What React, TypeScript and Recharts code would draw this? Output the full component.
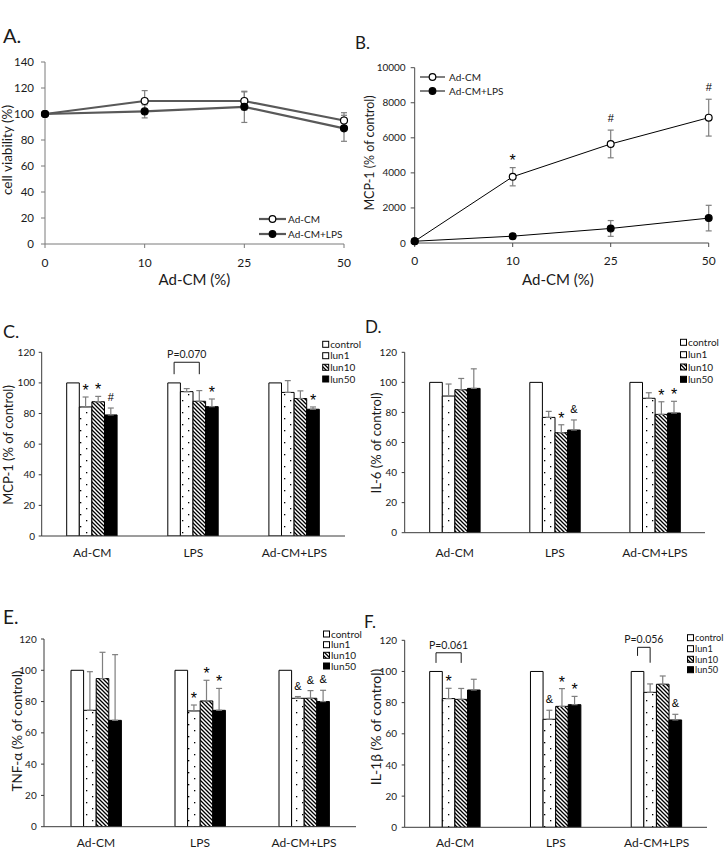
import React from "react";
import { LineChart, Line, BarChart, Bar, XAxis, YAxis, ErrorBar, LabelList } from "recharts";

// ---------- A. cell viability ----------
const doses = ["0", "10", "25", "50"];
const viabAdcm = [100, 110, 110, 95];
const viabAdcmErr = [0, 8, 7, 6];
const viabLps = [100, 102, 105.5, 89];
const viabLpsErr = [0, 5, 12, 10];
const viabTicks = [0, 20, 40, 60, 80, 100, 120, 140];

// ---------- B. MCP-1 dose response ----------
const mcpAdcm = [100, 3780, 5650, 7150];
const mcpAdcmErr = [0, 520, 790, 1050];
const mcpLps = [100, 390, 830, 1420];
const mcpLpsErr = [0, 150, 450, 730];
const mcpNotes = ["", "*", "#", "#"];
const mcpTicks = [0, 2000, 4000, 6000, 8000, 10000];

// ---------- C-F. bar panels ----------
const groups = ["Ad-CM", "LPS", "Ad-CM+LPS"];
const treatments = ["control", "lun1", "lun10", "lun50"];
const control = [100, 100, 100];
const pctTicks = [0, 20, 40, 60, 80, 100, 120];

// C. MCP-1
const cLun1 = [84.3, 94.3, 93.8];
const cLun10 = [87.7, 88, 89.8];
const cLun50 = [79.1, 84.5, 82.8];
const cLun1Err = [6.5, 2, 7.7];
const cLun10Err = [3.5, 7, 5];
const cLun50Err = [4.5, 5, 1.5];
const cLun1Note = ["*", "", ""];
const cLun10Note = ["*", "", ""];
const cLun50Note = ["#", "*", "*"];

// D. IL-6
const dLun1 = [90.9, 76.7, 89.4];
const dLun10 = [95.1, 66.5, 78.7];
const dLun50 = [96, 68.3, 79.6];
const dLun1Err = [8, 4, 3.7];
const dLun10Err = [7.5, 5.3, 8.4];
const dLun50Err = [13, 6.7, 7.8];
const dLun1Note = ["", "", ""];
const dLun10Note = ["", "*", "*"];
const dLun50Note = ["", "&", "*"];

// E. TNF-a
const eLun1 = [74.4, 74, 82.1];
const eLun10 = [94.7, 80.4, 82.1];
const eLun50 = [68, 74.4, 80];
const eLun1Err = [24.7, 3.8, 1.1];
const eLun10Err = [16.8, 13.2, 4.9];
const eLun50Err = [42, 14, 7.2];
const eLun1Note = ["", "*", "&"];
const eLun10Note = ["", "*", "&"];
const eLun50Note = ["", "*", "&"];

// F. IL-1b
const fLun1 = [82.6, 69.3, 86.6];
const fLun10 = [82.1, 77.6, 91.8];
const fLun50 = [88.1, 78.7, 68.9];
const fLun1Err = [6.6, 5.8, 5.4];
const fLun10Err = [7, 11.4, 5.3];
const fLun50Err = [6.9, 5.3, 3.6];
const fLun1Note = ["*", "&", ""];
const fLun10Note = ["", "*", ""];
const fLun50Note = ["", "*", "&"];

// comparison brackets: group, last bar of the bracket, label
const cBrackets = [{ group: "LPS", to: "lun10", label: "P=0.070" }];
const fBrackets = [
  { group: "Ad-CM", to: "lun10", label: "P=0.061" },
  { group: "Ad-CM+LPS", to: "lun1", label: "P=0.056" },
];

const FONT = "Lato, 'Open Sans', 'DejaVu Sans', sans-serif";
const NOTE_FONT = "'Liberation Sans', Arial, sans-serif";
const INK = "#1a1a1a";
const ERR = "#7f7f7f";
const fills: Record<string, string> = {
  control: "#ffffff",
  lun1: "url(#pat-dots)",
  lun10: "url(#pat-hatch)",
  lun50: "#000000",
};

const viabRows = doses.map((d, i) => ({
  dose: d,
  adcm: viabAdcm[i],
  adcmErr: viabAdcmErr[i],
  lps: viabLps[i],
  lpsErr: viabLpsErr[i],
}));

const mcpRows = doses.map((d, i) => ({
  dose: d,
  adcm: mcpAdcm[i],
  adcmErr: mcpAdcmErr[i],
  adcmTop: mcpAdcm[i] + mcpAdcmErr[i],
  lps: mcpLps[i],
  lpsErr: mcpLpsErr[i],
  note: mcpNotes[i],
}));

function barRows(vals: number[][], errs: number[][]) {
  return groups.map((g, i) => ({
    group: g,
    control: control[i],
    lun1: vals[0][i],
    lun10: vals[1][i],
    lun50: vals[2][i],
    lun1Err: [0, errs[0][i]],
    lun10Err: [0, errs[1][i]],
    lun50Err: [0, errs[2][i]],
  }));
}

function box(p: any) {
  const vb = p.viewBox || {};
  return {
    x: vb.x ?? p.x,
    y: vb.y ?? p.y,
    w: vb.width ?? p.width ?? 0,
    h: vb.height ?? p.height ?? 0,
  };
}

function noteText(x: number, top: number, note: string) {
  const star = note === "*";
  return (
    <text
      x={x}
      y={top - (star ? 1 : 7)}
      textAnchor="middle"
      fontFamily={NOTE_FONT}
      fontSize={star ? 16 : 11}
      fill="#000"
    >
      {note}
    </text>
  );
}

function lineNote(p: any) {
  const note = mcpNotes[p.index];
  const { x, y } = box(p);
  if (!note || x == null || y == null) return null;
  return noteText(x, y - 1, note);
}

function barNote(vals: number[], errs: number[], notes: string[]) {
  return (p: any) => {
    const i = p.index;
    const note = notes[i];
    const { x, y, w, h } = box(p);
    if (!note || x == null || y == null || !h) return null;
    const ppu = h / vals[i];
    return noteText(x + w / 2, y - errs[i] * ppu, note);
  };
}

type Geo = { top: number; legL: number; legR: number };

function bracketContent(brs: { group: string; to: string; label: string }[], geo: Geo[]) {
  return (p: any) => {
    const i = p.index;
    const k = brs.findIndex((b) => b.group === groups[i]);
    if (k < 0) return null;
    const { x, y, w, h } = box(p);
    if (x == null || y == null || !h) return null;
    const ppu = h / control[i];
    const base = y + h;
    const xa = x + w / 2;
    const xb = x + w * (treatments.indexOf(brs[k].to) + 0.5);
    const yt = base - geo[k].top * ppu;
    const yl = base - geo[k].legL * ppu;
    const yr = base - geo[k].legR * ppu;
    return (
      <g>
        <path d={`M${xa},${yl}L${xa},${yt}L${xb},${yt}L${xb},${yr}`} fill="none" stroke={INK} strokeWidth={1} />
        <text x={(xa + xb) / 2} y={yt - 4} textAnchor="middle" fontSize={10.5} fill={INK}>
          {brs[k].label}
        </text>
      </g>
    );
  };
}

type BarPanelCfg = {
  left: number;
  top: number;
  width: number;
  height: number;
  margin: { top: number; right: number; bottom: number; left: number };
  yw: number;
  xh: number;
  xTickMargin: number;
  yTickMargin: number;
  vals: number[][];
  errs: number[][];
  notes: string[][];
  brackets?: { group: string; to: string; label: string }[];
  geo?: Geo[];
};

const barPanels: BarPanelCfg[] = [
  {
    left: 0, top: 290, width: 362, height: 275,
    margin: { top: 62.3, right: 17, bottom: 4, left: 0 },
    yw: 41.7, xh: 25, xTickMargin: 12.5, yTickMargin: 3.7,
    vals: [cLun1, cLun10, cLun50], errs: [cLun1Err, cLun10Err, cLun50Err],
    notes: [cLun1Note, cLun10Note, cLun50Note],
    brackets: cBrackets, geo: [{ top: 113.5, legL: 105.7, legR: 105.7 }],
  },
  {
    left: 362, top: 290, width: 362, height: 275,
    margin: { top: 62.3, right: 19, bottom: 7.3, left: 0 },
    yw: 42.7, xh: 25, xTickMargin: 15.5, yTickMargin: 4.7,
    vals: [dLun1, dLun10, dLun50], errs: [dLun1Err, dLun10Err, dLun50Err],
    notes: [dLun1Note, dLun10Note, dLun50Note],
  },
  {
    left: 0, top: 560, width: 362, height: 290,
    margin: { top: 79, right: 6, bottom: 3.3, left: 0 },
    yw: 44, xh: 20, xTickMargin: 11.8, yTickMargin: 4.3,
    vals: [eLun1, eLun10, eLun50], errs: [eLun1Err, eLun10Err, eLun50Err],
    notes: [eLun1Note, eLun10Note, eLun50Note],
  },
  {
    left: 362, top: 560, width: 362, height: 290,
    margin: { top: 80.3, right: 17, bottom: 2.7, left: 0 },
    yw: 42.7, xh: 20, xTickMargin: 11.2, yTickMargin: 4.7,
    vals: [fLun1, fLun10, fLun50], errs: [fLun1Err, fLun10Err, fLun50Err],
    notes: [fLun1Note, fLun10Note, fLun50Note],
    brackets: fBrackets,
    geo: [
      { top: 112, legL: 105.5, legR: 105.5 },
      { top: 115.5, legL: 110, legR: 105.6 },
    ],
  },
];

const BAR_AXIS = "#3a3a3a";

function BarPanel({ cfg }: { cfg: BarPanelCfg }) {
  const data = barRows(cfg.vals, cfg.errs);
  return (
    <div style={{ position: "absolute", left: cfg.left, top: cfg.top }}>
      <BarChart width={cfg.width} height={cfg.height} data={data} margin={cfg.margin} barGap={0}>
        <XAxis
          dataKey="group"
          height={cfg.xh}
          tickLine={false}
          tickSize={0}
          tickMargin={cfg.xTickMargin}
          axisLine={{ stroke: BAR_AXIS }}
          tick={{ fontSize: 12, fill: INK }}
          interval={0}
        />
        <YAxis
          domain={[0, 120]}
          ticks={pctTicks}
          width={cfg.yw}
          tickSize={3}
          tickMargin={cfg.yTickMargin}
          axisLine={{ stroke: BAR_AXIS }}
          tickLine={{ stroke: BAR_AXIS }}
          tick={{ fontSize: 10, fill: INK }}
          interval={0}
          allowDataOverflow
        />
        <Bar dataKey="control" fill={fills.control} stroke="#000" strokeWidth={1} barSize={12.6} isAnimationActive={false}>
          {cfg.brackets && <LabelList dataKey="control" content={bracketContent(cfg.brackets, cfg.geo || [])} />}
        </Bar>
        {["lun1", "lun10", "lun50"].map((k, s) => (
          <Bar key={k} dataKey={k} fill={fills[k]} stroke="#000" strokeWidth={1} barSize={12.6} isAnimationActive={false}>
            <ErrorBar dataKey={`${k}Err`} width={3} stroke={ERR} strokeWidth={1.2} direction="y" />
            <LabelList dataKey={k} content={barNote(cfg.vals[s], cfg.errs[s], cfg.notes[s])} />
          </Bar>
        ))}
      </BarChart>
    </div>
  );
}

const panelLetters = [
  { t: "A.", x: 3, y: 43, s: 20 },
  { t: "B.", x: 355, y: 49, s: 17 },
  { t: "C.", x: 3, y: 338, s: 18 },
  { t: "D.", x: 365, y: 333, s: 17 },
  { t: "E.", x: 3, y: 624, s: 19 },
  { t: "F.", x: 364, y: 628, s: 17 },
];

const yTitles = [
  { t: "cell viability (%)", x: 6.5, y: 150, s: 13.5 },
  { t: "MCP-1 (% of control)", x: 369, y: 153, s: 12.5 },
  { t: "MCP-1 (% of control)", x: 8, y: 445, s: 13 },
  { t: "IL-6 (% of control)", x: 376, y: 443, s: 13 },
  { t: "TNF-\u03b1 (% of control)", x: 16.5, y: 731, s: 13.5 },
  { t: "IL-1\u03b2 (% of control)", x: 375, y: 727, s: 14 },
];

const barLegends = [
  { x: 322.7, rows: [344.3, 355.7, 367.3, 379], fs: 10 },
  { x: 680.5, rows: [342.3, 354.7, 367, 379.3], fs: 10 },
  { x: 323.5, rows: [634, 644.7, 655.3, 666], fs: 10 },
  { x: 687.5, rows: [637.7, 648.7, 659.3, 669.7], fs: 9.2 },
];

const lineLegends = [
  { x0: 259, x1: 286, tx: 288, rows: [219, 234], stroke: "#595959", sw: 2.2 },
  { x0: 420, x1: 445, tx: 449, rows: [77, 91], stroke: "#000", sw: 1 },
];
const lineSeries = [
  { name: "Ad-CM", fill: "#fff" },
  { name: "Ad-CM+LPS", fill: "#000" },
];

function Overlay() {
  return (
    <svg width={724} height={850} style={{ position: "absolute", left: 0, top: 0, pointerEvents: "none" }}>
      <defs>
        <pattern id="pat-dots" patternUnits="userSpaceOnUse" width="12" height="12">
          <rect width="12" height="12" fill="#fff" />
          <rect x="2" y="2" width="1.3" height="1.3" fill="#000" />
          <rect x="8" y="8" width="1.3" height="1.3" fill="#000" />
        </pattern>
        <pattern id="pat-hatch" patternUnits="userSpaceOnUse" width="4" height="4">
          <rect width="4" height="4" fill="#fff" />
          <path d="M-1,-1L5,5M-1,3L1,5M3,-1L5,1" stroke="#000" strokeWidth="1.3" />
        </pattern>
      </defs>
      {panelLetters.map((l) => (
        <text key={l.t} x={l.x} y={l.y} fontSize={l.s} fill={INK}>
          {l.t}
        </text>
      ))}
      {yTitles.map((t, i) => (
        <text
          key={i}
          transform={`translate(${t.x},${t.y}) rotate(-90)`}
          textAnchor="middle"
          dominantBaseline="central"
          fontSize={t.s}
          fill={INK}
        >
          {t.t}
        </text>
      ))}
      <text x={194.5} y={285} textAnchor="middle" fontSize={15} fill={INK}>
        Ad-CM (%)
      </text>
      <text x={558} y={285} textAnchor="middle" fontSize={15} fill={INK}>
        Ad-CM (%)
      </text>
      {barLegends.map((lg, li) =>
        treatments.map((t, i) => (
          <g key={`${li}-${t}`}>
            <rect x={lg.x} y={lg.rows[i] - 3} width={6} height={6} fill={fills[t]} stroke="#000" strokeWidth={1} />
            <text x={lg.x + 7.5} y={lg.rows[i] + 3.5} fontSize={lg.fs} fill={INK}>
              {t}
            </text>
          </g>
        ))
      )}
      {lineLegends.map((lg, li) =>
        lineSeries.map((s, i) => (
          <g key={`${li}-${s.name}`}>
            <line x1={lg.x0} x2={lg.x1} y1={lg.rows[i]} y2={lg.rows[i]} stroke={lg.stroke} strokeWidth={lg.sw} />
            <circle cx={(lg.x0 + lg.x1) / 2} cy={lg.rows[i]} r={3.3} fill={s.fill} stroke="#000" strokeWidth={1.2} />
            <text x={lg.tx} y={lg.rows[i] + 3.5} fontSize={10} fill={INK}>
              {s.name}
            </text>
          </g>
        ))
      )}
    </svg>
  );
}

export default function App() {
  return (
    <div
      style={{
        position: "absolute",
        left: 0,
        top: 0,
        width: 724,
        height: 850,
        background: "#fff",
        fontFamily: FONT,
        overflow: "hidden",
      }}
    >
      {/* A */}
      <div style={{ position: "absolute", left: 0, top: 0 }}>
        <LineChart width={362} height={290} data={viabRows} margin={{ top: 62, right: 18, bottom: 6, left: 0 }}>
          <XAxis
            dataKey="dose"
            scale="point"
            padding={{ left: 0, right: 0 }}
            height={40}
            tickSize={4}
            tickMargin={10}
            axisLine={{ stroke: "#7a7a7a" }}
            tickLine={{ stroke: "#7a7a7a" }}
            tick={{ fontSize: 12, fill: INK }}
            interval={0}
          />
          <YAxis
            domain={[0, 140]}
            ticks={viabTicks}
            width={45}
            tickSize={4}
            tickMargin={7}
            axisLine={{ stroke: "#7a7a7a" }}
            tickLine={{ stroke: "#7a7a7a" }}
            tick={{ fontSize: 11.5, fill: INK }}
            interval={0}
          />
          <Line
            dataKey="adcm"
            stroke="#595959"
            strokeWidth={2.2}
            dot={{ r: 3.5, fill: "#fff", stroke: "#000", strokeWidth: 1.2 }}
            activeDot={false}
            isAnimationActive={false}
          >
            <ErrorBar dataKey="adcmErr" width={3} stroke={ERR} strokeWidth={1.2} direction="y" />
          </Line>
          <Line
            dataKey="lps"
            stroke="#595959"
            strokeWidth={2.2}
            dot={{ r: 3.5, fill: "#000", stroke: "#000", strokeWidth: 1.2 }}
            activeDot={false}
            isAnimationActive={false}
          >
            <ErrorBar dataKey="lpsErr" width={3} stroke={ERR} strokeWidth={1.2} direction="y" />
          </Line>
        </LineChart>
      </div>

      {/* B */}
      <div style={{ position: "absolute", left: 362, top: 0 }}>
        <LineChart width={362} height={290} data={mcpRows} margin={{ top: 67.7, right: 15.3, bottom: 7, left: 0 }}>
          <XAxis
            dataKey="dose"
            scale="point"
            padding={{ left: 0, right: 0 }}
            height={40}
            tickSize={4}
            tickMargin={9.5}
            axisLine={{ stroke: "#4a4a4a" }}
            tickLine={{ stroke: "#4a4a4a" }}
            tick={{ fontSize: 12, fill: INK }}
            interval={0}
          />
          <YAxis
            domain={[0, 10000]}
            ticks={mcpTicks}
            width={52.7}
            tickSize={4}
            tickMargin={5}
            axisLine={{ stroke: "#4a4a4a" }}
            tickLine={{ stroke: "#4a4a4a" }}
            tick={{ fontSize: 10, fill: INK }}
            interval={0}
          />
          <Line
            dataKey="adcmTop"
            stroke="none"
            dot={false}
            activeDot={false}
            legendType="none"
            isAnimationActive={false}
          >
            <LabelList dataKey="note" content={lineNote} />
          </Line>
          <Line
            dataKey="adcm"
            stroke="#000"
            strokeWidth={1}
            dot={{ r: 3.4, fill: "#fff", stroke: "#000", strokeWidth: 1.2 }}
            activeDot={false}
            isAnimationActive={false}
          >
            <ErrorBar dataKey="adcmErr" width={3} stroke={ERR} strokeWidth={1.2} direction="y" />
          </Line>
          <Line
            dataKey="lps"
            stroke="#000"
            strokeWidth={1}
            dot={{ r: 3.4, fill: "#000", stroke: "#000", strokeWidth: 1.2 }}
            activeDot={false}
            isAnimationActive={false}
          >
            <ErrorBar dataKey="lpsErr" width={3} stroke={ERR} strokeWidth={1.2} direction="y" />
          </Line>
        </LineChart>
      </div>

      {barPanels.map((cfg, i) => (
        <BarPanel key={i} cfg={cfg} />
      ))}

      <Overlay />
    </div>
  );
}
